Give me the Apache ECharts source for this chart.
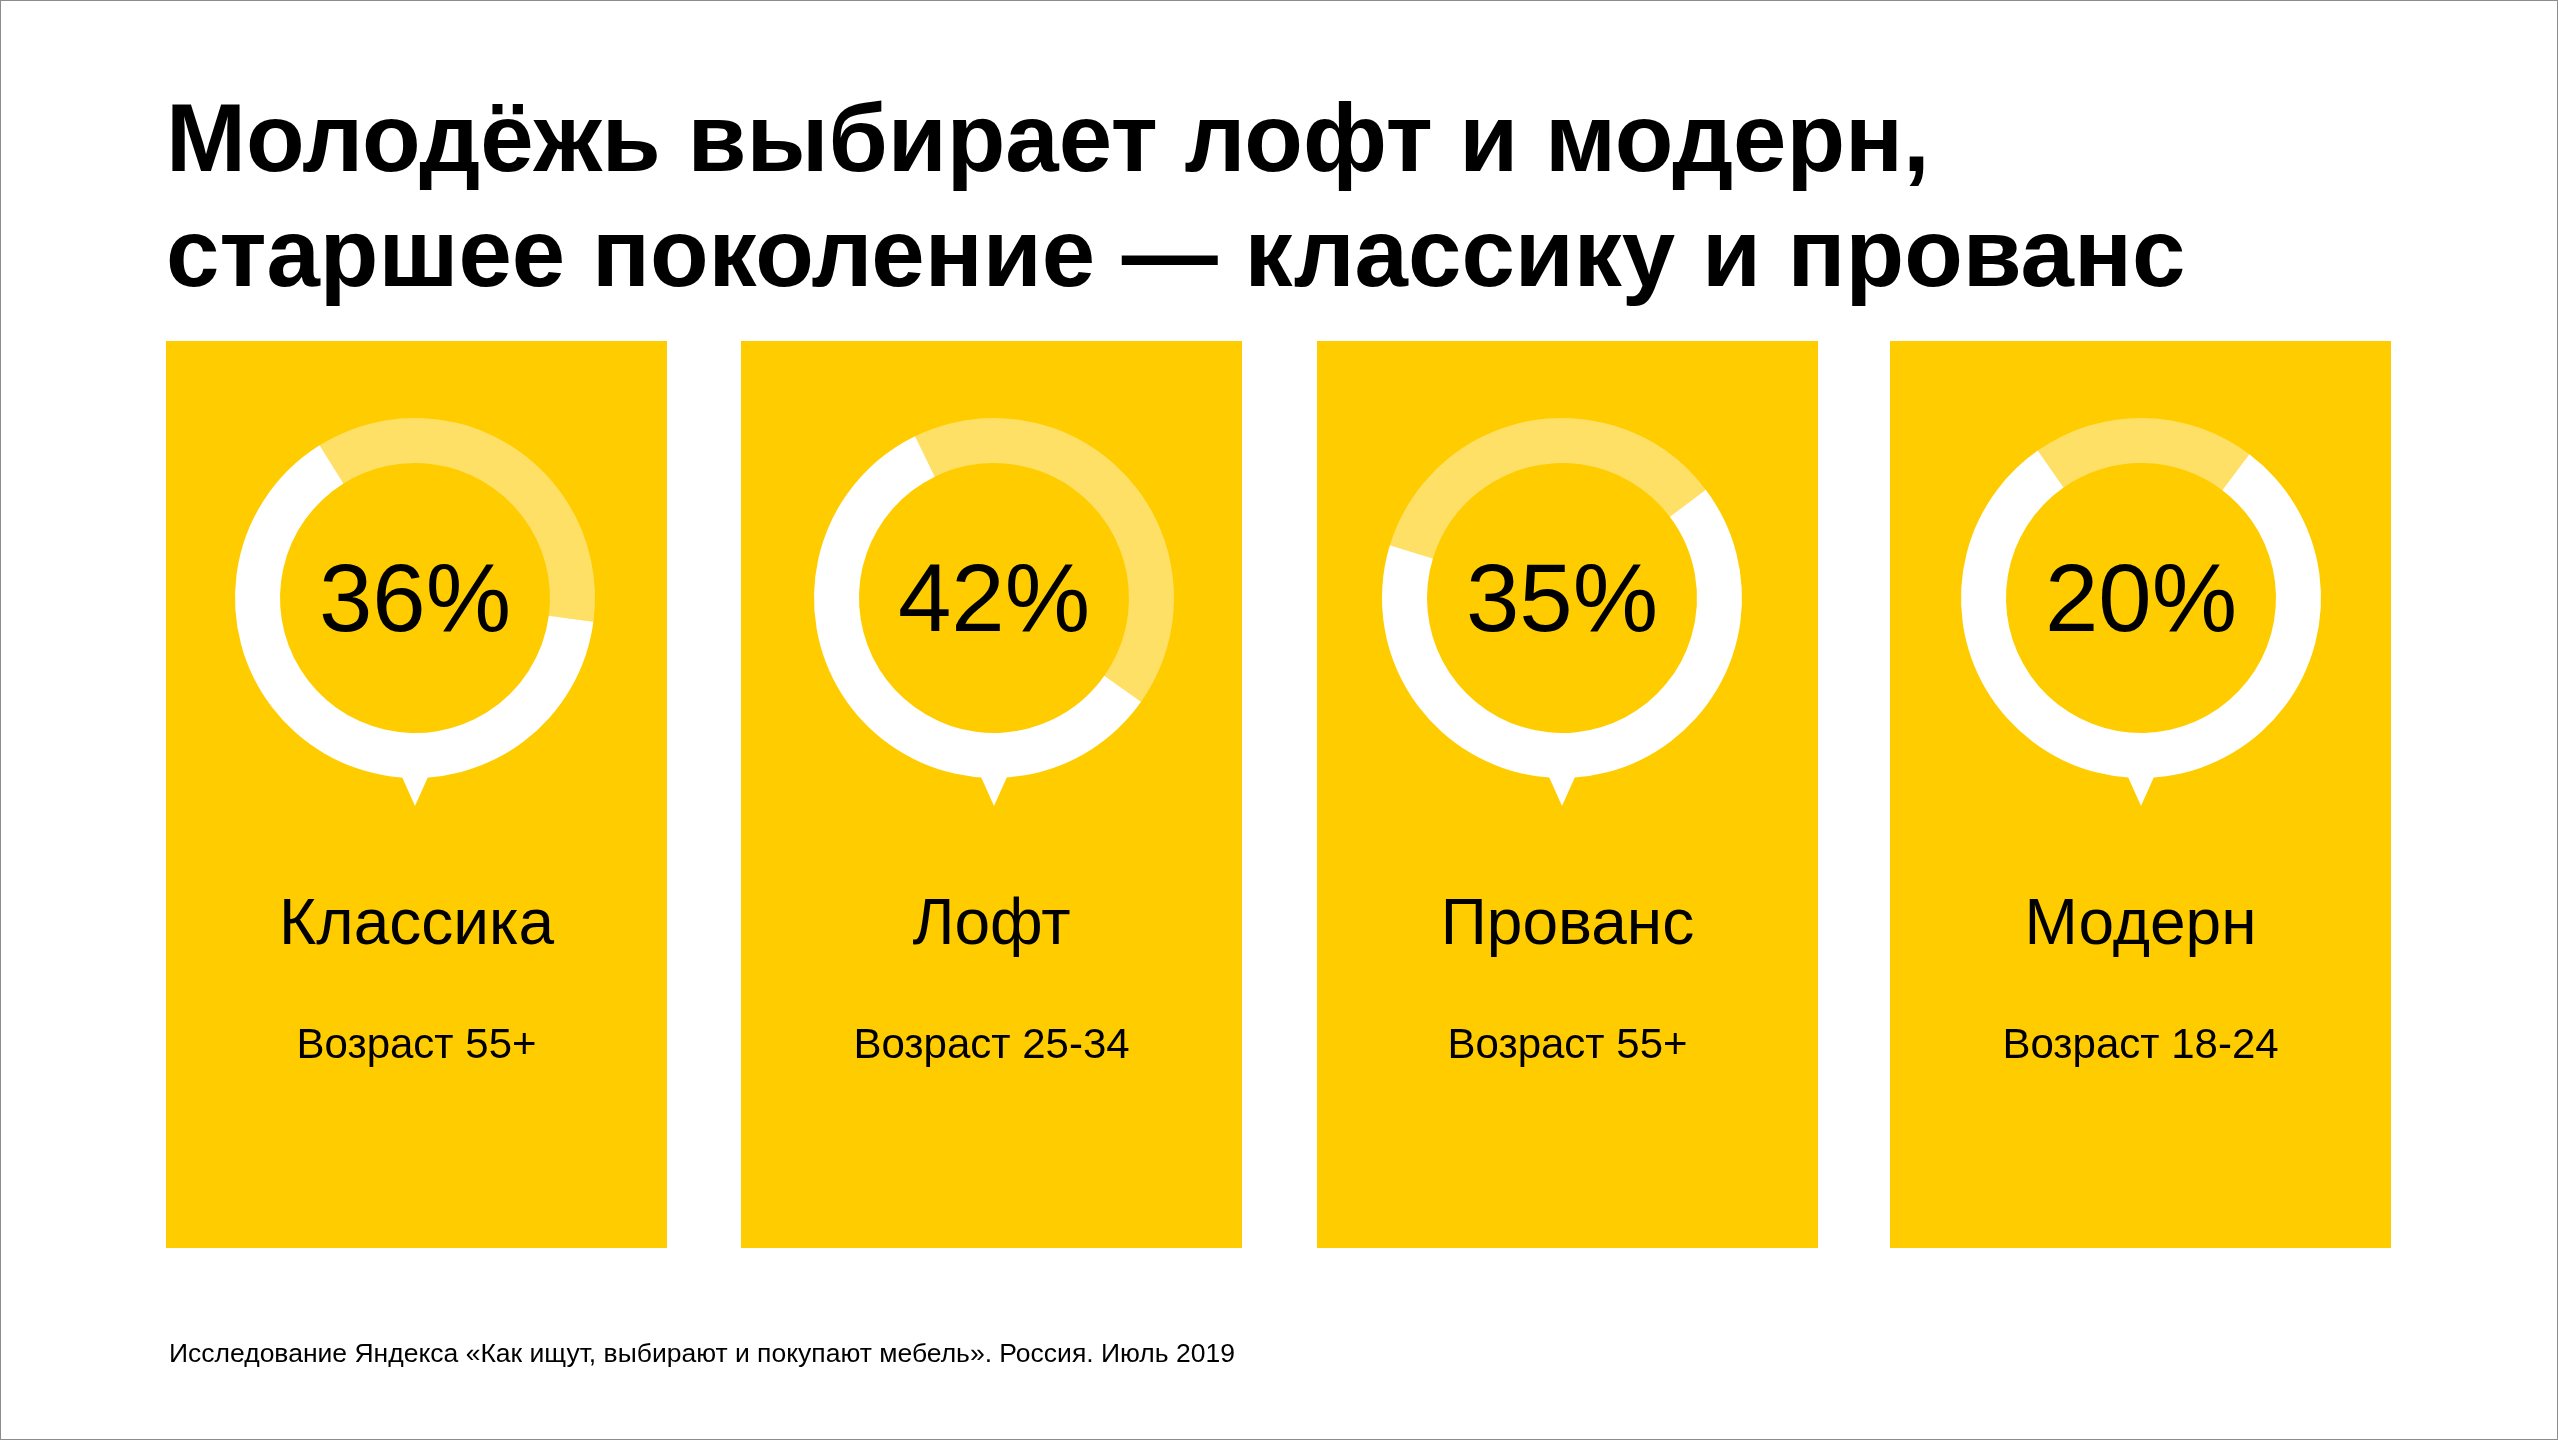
<!DOCTYPE html>
<html>
<head>
<meta charset="utf-8">
<title>Молодёжь выбирает лофт и модерн</title>
<script src="https://cdn.jsdelivr.net/npm/echarts@6/dist/echarts.min.js"></script>
<style>
	html, body {
		margin: 0;
		padding: 0;
		background: #fff;
	}
	#chart {
		width: 2558px;
		height: 1440px;
		box-sizing: border-box;
		border: 1px solid #8c8c8c;
	}
</style>
</head>
<body>
<div id="chart"></div>
<script>
// данные
let styles = ['Классика', 'Лофт', 'Прованс', 'Модерн'];
let shares = [36, 42, 35, 20];
let ages = ['Возраст 55+', 'Возраст 25-34', 'Возраст 55+', 'Возраст 18-24'];

let titleLines = ['Молодёжь выбирает лофт и модерн,', 'старшее поколение — классику и прованс'];
let source = 'Исследование Яндекса «Как ищут, выбирают и покупают мебель». Россия. Июль 2019';

// раскладка карточек
let cardLeft = [165, 740, 1316, 1889];
let cardTop = 340;
let cardW = 501;
let cardH = 907;
let ringX = [414, 993, 1561, 2140];
let ringY = 597;
let arcStart = [122, 116, 163, 125]; // где начинается светлая дуга

let YELLOW = '#ffcc00';
let LIGHT = '#ffe066';
let FONT = '"Liberation Sans", Arial, sans-serif';

let chart = echarts.init(document.getElementById('chart'));

let graphic = [];
let series = [];

// заголовок
titleLines.forEach(function (line, i) {
	graphic.push({
		type: 'text', left: 165, top: 96 + i * 115, z: 10,
		style: { text: line, fill: '#000', font: 'bold 96px ' + FONT }
	});
});

styles.forEach(function (name, i) {
	let cx = ringX[i];
	// жёлтая карточка
	graphic.push({
		type: 'rect', z: 0,
		shape: { x: cardLeft[i], y: cardTop, width: cardW, height: cardH },
		style: { fill: YELLOW }
	});
	// хвостик у кольца
	graphic.push({
		type: 'polygon', z: 1,
		shape: { points: [[cx - 17, ringY + 170], [cx + 17, ringY + 170], [cx, ringY + 208]] },
		style: { fill: '#fff' }
	});
	graphic.push({
		type: 'text', z: 10,
		style: {
			x: (cardLeft[i] + cardW / 2), y: 925, text: name, fill: '#000',
			font: '64px ' + FONT, textAlign: 'center', textVerticalAlign: 'middle'
		}
	});
	graphic.push({
		type: 'text', z: 10,
		style: {
			x: (cardLeft[i] + cardW / 2), y: 1045, text: ages[i], fill: '#000',
			font: '42px ' + FONT, textAlign: 'center', textVerticalAlign: 'middle'
		}
	});

	series.push({
		type: 'pie',
		silent: true,
		z: 5,
		center: [cx, ringY],
		radius: [135, 180],
		startAngle: arcStart[i],
		clockwise: true,
		avoidLabelOverlap: false,
		emphasis: { disabled: true },
		labelLine: { show: false },
		data: [
			{
				value: shares[i], name: name, itemStyle: { color: LIGHT },
				label: {
					show: true, position: 'center', formatter: '{c}%', offset: [0, 7],
					fontFamily: FONT, fontSize: 96, color: '#000'
				}
			},
			{ value: 100 - shares[i], name: '', itemStyle: { color: '#fff' }, label: { show: false } }
		]
	});
});

// источник
graphic.push({
	type: 'text', z: 10,
	style: {
		x: 168, y: 1354, text: source, fill: '#000',
		font: '26.5px ' + FONT, textVerticalAlign: 'middle'
	}
});

chart.setOption({
	animation: false,
	backgroundColor: '#fff',
	graphic: graphic,
	series: series
});
</script>
</body>
</html>
